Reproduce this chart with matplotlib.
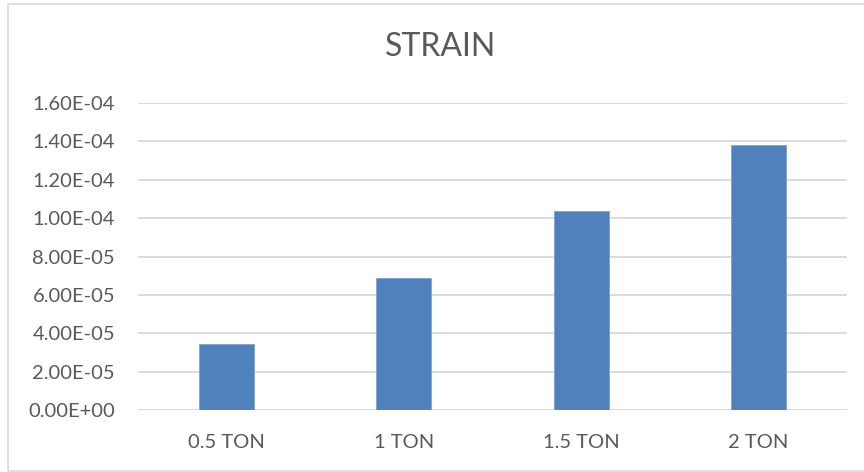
import matplotlib
matplotlib.use("Agg")
import matplotlib.pyplot as plt
from matplotlib.patches import Rectangle
from matplotlib.ticker import FuncFormatter

categories = ["0.5 TON", "1 TON", "1.5 TON", "2 TON"]
strain = [3.45e-5, 6.90e-5, 1.035e-4, 1.38e-4]
y_ticks = [0, 2e-5, 4e-5, 6e-5, 8e-5, 1e-4, 1.2e-4, 1.4e-4, 1.6e-4]

plt.rcParams["font.family"] = ["Lato", "DejaVu Sans"]
text_color = "#595959"
grid_color = "#d9d9d9"

fig = plt.figure(figsize=(8.64, 4.72), dpi=100)
fig.patch.set_facecolor("white")

# chart frame
fig.patches.append(Rectangle((7.5 / 864, 1.2 / 472), 1.2, 467 / 472,
                             transform=fig.transFigure, fill=False,
                             edgecolor=grid_color, linewidth=1.2))

ax = fig.add_axes([138 / 864, (472 - 410.3) / 472, 709 / 864, 307.6 / 472])
x = range(len(categories))
ax.bar(x, strain, width=0.31, color="#4f81bd", edgecolor="#7fa0d0",
       linewidth=0.6, zorder=3)

ax.set_xlim(-0.5, len(categories) - 0.5)
ax.set_ylim(0, 1.6e-4)
ax.set_yticks(y_ticks)
ax.yaxis.set_major_formatter(FuncFormatter(
    lambda v, p: "{:.2E}".format(v)))
ax.set_xticks(list(x))
ax.set_xticklabels(categories)

ax.grid(axis="y", color=grid_color, linewidth=1.3, zorder=0)
for s in ax.spines.values():
    s.set_visible(False)
ax.tick_params(axis="both", length=0, colors=text_color, labelsize=14.5)
ax.tick_params(axis="y", pad=16.5)
ax.tick_params(axis="x", pad=17)

fig.text(441 / 864, 1 - 47.5 / 472, "STRAIN", ha="center", va="center",
         fontsize=23, color=text_color)

fig.savefig("out.png", dpi=100)
